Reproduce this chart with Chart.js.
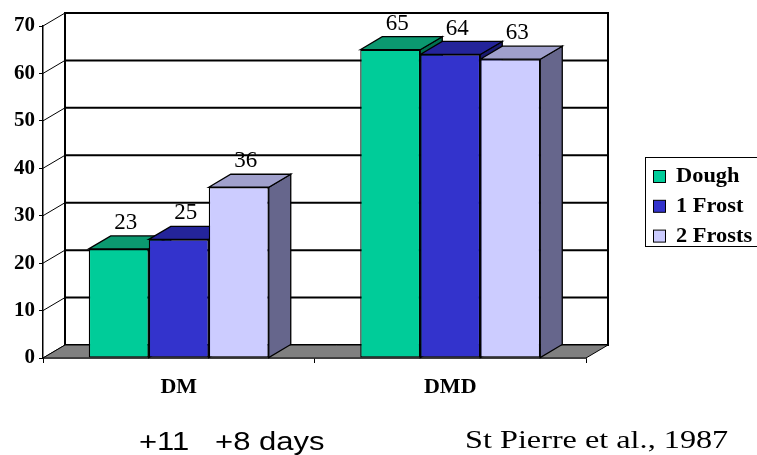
<!DOCTYPE html>
<html>
<head>
<meta charset="utf-8">
<script src="https://cdn.jsdelivr.net/npm/chart.js@4.4.1/dist/chart.umd.min.js"></script>
<style>
  html, body { margin: 0; padding: 0; background: #fff; }
  #wrap { width: 757px; height: 455px; }
</style>
</head>
<body>
<div id="wrap"><canvas id="bar-canvas" width="757" height="455"></canvas></div>
<script>
// values per forage stage
const categories = ['DM', 'DMD'];
const seriesNames = ['Dough', '1 Frost', '2 Frosts'];
const dough = [23, 65];
const oneFrost = [25, 64];
const twoFrosts = [36, 63];
const yMin = 0, yMax = 70, yStep = 10;
const footLeft = '+11   +8 days';
const footRight = 'St Pierre et al., 1987';

const SERIF = "'Liberation Serif', 'Times New Roman', Times, serif";
const SANS = "'Liberation Sans', Arial, Helvetica, sans-serif";

// face colours: front, top, side
const faces = [
    ['#00CC99', '#0B9970', '#00704F'],
    ['#3333CC', '#24249A', '#1A1A70'],
    ['#CCCCFF', '#A0A0CC', '#66668C']
];

// depth of the fake 3d box
const DX = 22, DY = -13;

function poly(ctx, pts, fill) {
    ctx.beginPath();
    ctx.moveTo(pts[0][0], pts[0][1]);
    for (let i = 1; i < pts.length; i++) ctx.lineTo(pts[i][0], pts[i][1]);
    ctx.closePath();
    if (fill) { ctx.fillStyle = fill; ctx.fill(); }
    ctx.stroke();
}

const box3d = {
    id: 'box3d',
    beforeDatasetsDraw(chart) {
        const ctx = chart.ctx, a = chart.chartArea, y = chart.scales.y;
        ctx.save();
        ctx.strokeStyle = '#000';
        // back wall with grid lines, plus the left wall edges
        ctx.lineWidth = 2;
        ctx.strokeRect(a.left + DX, a.top + DY, a.right - a.left, a.bottom - a.top);
        for (let v = yMin; v <= yMax; v += yStep) {
            const py = y.getPixelForValue(v);
            ctx.lineWidth = 2;
            ctx.beginPath();
            ctx.moveTo(a.left + DX, py + DY);
            ctx.lineTo(a.right + DX, py + DY);
            ctx.stroke();
            ctx.lineWidth = 1;
            ctx.beginPath();
            ctx.moveTo(a.left, py);
            ctx.lineTo(a.left + DX, py + DY);
            ctx.stroke();
        }
        // floor
        ctx.lineWidth = 1;
        poly(ctx, [[a.left, a.bottom], [a.left + DX, a.bottom + DY],
                   [a.right + DX, a.bottom + DY], [a.right, a.bottom]], '#808080');

        // sides and tops, left to right inside each group
        ctx.lineWidth = 1.3;
        for (let i = 0; i < categories.length; i++) {
            chart.data.datasets.forEach((ds, d) => {
                const el = chart.getDatasetMeta(d).data[i];
                const l = el.x - el.width / 2, r = el.x + el.width / 2;
                const t = el.y, b = el.base;
                poly(ctx, [[r, t], [r + DX, t + DY], [r + DX, b + DY], [r, b]], faces[d][2]);
                poly(ctx, [[l, t], [l + DX, t + DY], [r + DX, t + DY], [r, t]], faces[d][1]);
            });
        }
        ctx.restore();
    },
    afterDatasetsDraw(chart) {
        const ctx = chart.ctx;
        ctx.save();
        ctx.fillStyle = '#000';
        ctx.font = '23px ' + SERIF;
        ctx.textAlign = 'center';
        ctx.textBaseline = 'middle';
        chart.data.datasets.forEach((ds, d) => {
            chart.getDatasetMeta(d).data.forEach((el, i) => {
                ctx.fillText(String(ds.data[i]), el.x + 7, el.y + DY - 13);
            });
        });
        ctx.restore();
    },
    afterDraw(chart) {
        const ctx = chart.ctx;
        ctx.save();
        // legend with a frame
        ctx.strokeStyle = '#000';
        ctx.lineWidth = 1;
        ctx.strokeRect(645.5, 157.5, 130, 89);
        ctx.font = 'bold 20px ' + SERIF;
        ctx.textBaseline = 'middle';
        chart.data.datasets.forEach((ds, d) => {
            const cy = 177 + d * 29.8;
            ctx.fillStyle = ds.backgroundColor;
            ctx.fillRect(653.5, cy - 6.5, 12, 12);
            ctx.strokeRect(653.5, cy - 6.5, 12, 12);
            ctx.fillStyle = '#000';
            ctx.save();
            ctx.translate(676, cy);
            ctx.scale(1.12, 1);
            ctx.fillText(ds.label, 0, 0);
            ctx.restore();
        });
        // footnotes
        ctx.textBaseline = 'alphabetic';
        ctx.save();
        ctx.translate(139, 450);
        ctx.scale(1.24, 1);
        ctx.font = '25px ' + SANS;
        ctx.fillText(footLeft, 0, 0);
        ctx.restore();
        ctx.save();
        ctx.translate(465, 448);
        ctx.scale(1.24, 1);
        ctx.font = '26px ' + SERIF;
        ctx.fillText(footRight, 0, 0);
        ctx.restore();
        ctx.restore();
    }
};

let ctx = document.getElementById('bar-canvas').getContext('2d');
let chart = new Chart(ctx, {
    type: 'bar',
    data: {
        labels: categories,
        datasets: [
            { label: seriesNames[0], data: dough, backgroundColor: faces[0][0] },
            { label: seriesNames[1], data: oneFrost, backgroundColor: faces[1][0] },
            { label: seriesNames[2], data: twoFrosts, backgroundColor: faces[2][0] }
        ]
    },
    options: {
        responsive: false,
        animation: false,
        layout: { padding: { top: 26, right: 171, left: 0, bottom: 0 } },
        datasets: {
            bar: {
                borderColor: '#000',
                borderWidth: 1.3,
                borderSkipped: false,
                barPercentage: 1,
                categoryPercentage: 0.663
            }
        },
        plugins: {
            legend: { display: false },
            tooltip: { enabled: false }
        },
        scales: {
            x: {
                grid: { offset: true, drawOnChartArea: false, tickLength: 5, color: '#000' },
                border: { color: '#000', width: 1.5 },
                ticks: {
                    color: '#000',
                    padding: 11,
                    font: { family: SERIF, size: 22, weight: 'bold' }
                },
                afterFit(scale) { scale.height = 97; }
            },
            y: {
                min: yMin,
                max: yMax,
                grid: { drawOnChartArea: false, tickLength: 4, color: '#000' },
                border: { color: '#000', width: 1.5 },
                ticks: {
                    stepSize: yStep,
                    color: '#000',
                    padding: 4,
                    font: { family: SERIF, size: 21, weight: 'bold' }
                },
                afterFit(scale) { scale.width = 43; }
            }
        }
    },
    plugins: [box3d]
});
</script>
</body>
</html>
